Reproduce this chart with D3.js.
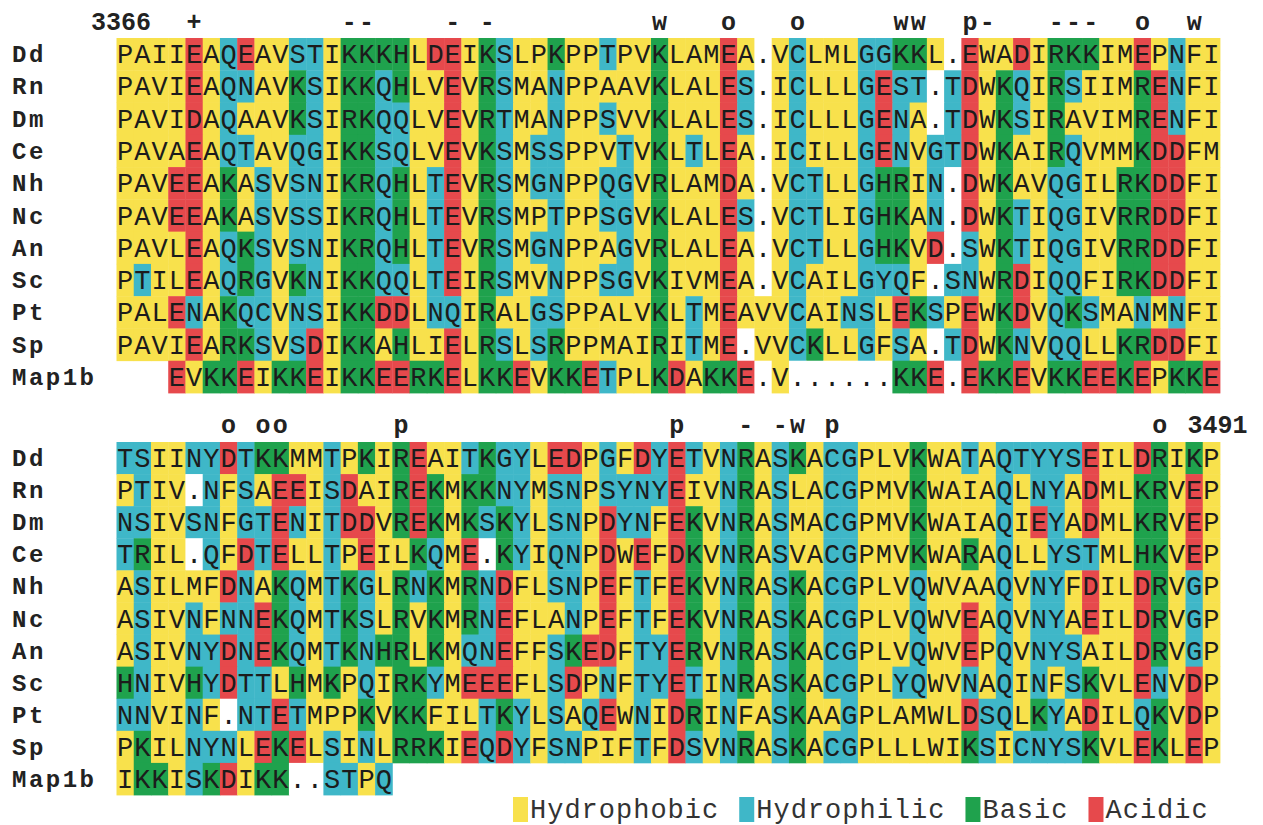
<!DOCTYPE html>
<html>
  <head>
    <title>Alignment</title>
    <style>
body {
  margin: 0px;
  overflow: hidden;
  background: #fff;
}
text {
  font-family: "Courier New", Courier, "Liberation Mono", monospace;
}
.res {
  font-size: 27px;
  fill: #1c1c1c;
}
.label {
  font-size: 24px;
  font-weight: bold;
  letter-spacing: 2.5px;
  fill: #222;
}
.mark {
  font-size: 25px;
  font-weight: bold;
  fill: #222;
}
.legend text {
  font-size: 27px;
  letter-spacing: 1px;
  fill: #333;
}
    </style>
    <script src="https://d3js.org/d3.v7.min.js"></script>
  </head>
  <body>
    <svg width="1263" height="825"></svg>
    <script>

const rowLabels = ['Dd', 'Rn', 'Dm', 'Ce', 'Nh', 'Nc', 'An', 'Sc', 'Pt', 'Sp', 'Map1b'];

// residues 3366 ...
const block1Seqs = [
  'PAIIEAQEAVSTIKKKHLDEIKSLPKPPTPVKLAMEA.VCLMLGGKKL.EWADIRKKIMEPNFI',
  'PAVIEAQNAVKSIKKQHLVEVRSMANPPAAVKLALES.ICLLLGEST.TDWKQIRSIIMRENFI',
  'PAVIDAQAAVKSIRKQQLVEVRTMANPPSVVKLALES.ICLLLGENA.TDWKSIRAVIMRENFI',
  'PAVAEAQTAVQGIKKSQLVEVKSMSSPPVTVKLTLEA.ICILLGENVGTDWKAIRQVMMKDDFM',
  'PAVEEAKASVSNIKRQHLTEVRSMGNPPQGVRLAMDA.VCTLLGHRIN.DWKAVQGILRKDDFI',
  'PAVEEAKASVSSIKRQHLTEVRSMPTPPSGVKLALES.VCTLIGHKAN.DWKTIQGIVRRDDFI',
  'PAVLEAQKSVSNIKRQHLTEVRSMGNPPAGVRLALEA.VCTLLGHKVD.SWKTIQGIVRRDDFI',
  'PTILEAQRGVKNIKKQQLTEIRSMVNPPSGVKIVMEA.VCAILGYQF.SNWRDIQQFIRKDDFI',
  'PALENAKQCVNSIKKDDLNQIRALGSPPALVKLTMEAVVCAINSLEKSPEWKDVQKSMANMNFI',
  'PAVIEARKSVSDIKKAHLIELRSLSRPPMAIRITME.VVCKLLGFSA.TDWKNVQQLLKRDDFI',
  '   EVKKEIKKEIKKEERKELKKEVKKETPLKDAKKE.V......KKE.EKKEVKKEEKEPKKE'
];

// ... to 3491
const block2Seqs = [
  'TSIINYDTKKMMTPKIREAITKGYLEDPGFDYETVNRASKACGPLVKWATAQTYYSEILDRIKP',
  'PTIV.NFSAEEISDAIREKMKKNYMSNPSYNYEIVNRASLACGPMVKWAIAQLNYADMLKRVEP',
  'NSIVSNFGTENITDDVREKMKSKYLSNPDYNFEKVNRASMACGPMVKWAIAQIEYADMLKRVEP',
  'TRIL.QFDTELLTPEILKQME.KYIQNPDWEFDKVNRASVACGPMVKWARAQLLYSTMLHKVEP',
  'ASILMFDNAKQMTKGLRNKMRNDFLSNPEFTFEKVNRASKACGPLVQWVAAQVNYFDILDRVGP',
  'ASIVNFNNEKQMTKSLRVKMRNEFLANPEFTFEKVNRASKACGPLVQWVEAQVNYAEILDRVGP',
  'ASIVNYDNEKQMTKNHRLKMQNEFFSKEDFTYERVNRASKACGPLVQWVEPQVNYSAILDRVGP',
  'HNIVHYDTTLHMKPQIRKYMEEEFLSDPNFTYETINRASKACGPLYQWVNAQINFSKVLENVDP',
  'NNVINF.NTETMPPKVKKFILTKYLSAQEWNIDRINFASKAAGPLAMWLDSQLKYADILQKVDP',
  'PKILNYNLEKELSINLRRKIEQDYFSNPIFTFDSVNRASKACGPLLLWIKSICNYSKVLEKLEP',
  'IKKISKDIKK..STPQ'
];

const block1Marks = [
  { col: 4, sym: '+' }, { col: 13, sym: '-' }, { col: 14, sym: '-' },
  { col: 19, sym: '-' }, { col: 21, sym: '-' }, { col: 31, sym: 'w' },
  { col: 35, sym: 'o' }, { col: 39, sym: 'o' }, { col: 45, sym: 'w' },
  { col: 46, sym: 'w' }, { col: 49, sym: 'p' }, { col: 50, sym: '-' },
  { col: 54, sym: '-' }, { col: 55, sym: '-' }, { col: 56, sym: '-' },
  { col: 59, sym: 'o' }, { col: 62, sym: 'w' }
];
const block2Marks = [
  { col: 6, sym: 'o' }, { col: 8, sym: 'o' }, { col: 9, sym: 'o' },
  { col: 16, sym: 'p' }, { col: 32, sym: 'p' }, { col: 36, sym: '-' },
  { col: 38, sym: '-' }, { col: 39, sym: 'w' }, { col: 41, sym: 'p' },
  { col: 60, sym: 'o' }
];

const startResidue = '3366';
const endResidue = '3491';

const classNames = ['Hydrophobic', 'Hydrophilic', 'Basic', 'Acidic'];
const classResidues = ['AVILMFWP', 'STNQGYC', 'KRH', 'DE'];
const classColors = ['#f8e14c', '#3fb7c8', '#1fa24d', '#e6494c'];

const svg = d3.select('svg');
const width = +svg.attr('width');
const height = +svg.attr('height');

const nCols = 64;
const xScale = d3.scaleBand()
  .domain(d3.range(nCols))
  .range([116.5, 1220]);
const bw = xScale.bandwidth();

const color = d3.scaleOrdinal().domain(classNames).range(classColors);

const residueClass = ch => {
  const i = classResidues.findIndex(s => s.includes(ch));
  return i < 0 ? null : classNames[i];
};

const drawBlock = (seqs, marks, top, bottom, markY, posLabel) => {
  const yScale = d3.scaleBand().domain(rowLabels).range([top, bottom]);
  const bh = yScale.bandwidth();
  const g = svg.append('g');

  const cells = [];
  seqs.forEach((s, r) => {
    s.split('').forEach((ch, c) => {
      if (ch !== ' ') cells.push({ row: rowLabels[r], col: c, ch: ch });
    });
  });

  g.selectAll('rect.cell').data(cells)
    .enter().append('rect')
      .attr('class', 'cell')
      .attr('x', d => xScale(d.col))
      .attr('y', d => yScale(d.row))
      .attr('width', bw + 0.4)
      .attr('height', bh + 0.4)
      .style('fill', d => {
        const k = residueClass(d.ch);
        return k ? color(k) : '#fff';
      });

  g.selectAll('text.res').data(cells)
    .enter().append('text')
      .attr('class', 'res')
      .attr('x', d => xScale(d.col) + bw / 2)
      .attr('y', d => yScale(d.row) + bh / 2 + 9)
      .attr('text-anchor', 'middle')
      .text(d => d.ch);

  g.selectAll('text.label').data(rowLabels)
    .enter().append('text')
      .attr('class', 'label')
      .attr('x', 12)
      .attr('y', d => yScale(d) + bh / 2 + 8)
      .text(d => d);

  g.selectAll('text.mark').data(marks)
    .enter().append('text')
      .attr('class', 'mark')
      .attr('x', d => xScale(d.col) + bw / 2)
      .attr('y', markY)
      .attr('text-anchor', 'middle')
      .text(d => d.sym);

  g.append('text')
    .attr('class', 'mark')
    .attr('x', posLabel.start ? xScale(posLabel.col) + 2 : xScale(posLabel.col))
    .attr('y', markY)
    .attr('text-anchor', posLabel.start ? 'start' : 'end')
    .text(posLabel.text);
};

drawBlock(block1Seqs, block1Marks, 38, 393, 30, { text: startResidue, col: 2, start: false });
drawBlock(block2Seqs, block2Marks, 442, 795, 433, { text: endResidue, col: 62, start: true });

// legend
const legend = svg.append('g').attr('class', 'legend');
let lx = 513;
classNames.forEach(name => {
  legend.append('rect')
    .attr('x', lx)
    .attr('y', 797)
    .attr('width', 15)
    .attr('height', 25)
    .style('fill', color(name));
  const t = legend.append('text')
    .attr('x', lx + 17)
    .attr('y', 818)
    .text(name);
  lx = lx + 17 + t.node().getComputedTextLength() + 20;
});

    </script>
  </body>
</html>
